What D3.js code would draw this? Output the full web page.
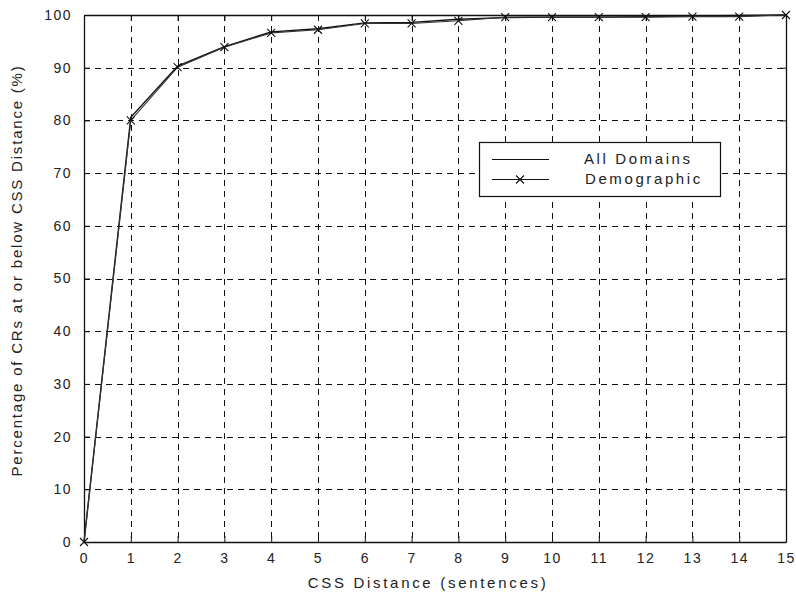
<!DOCTYPE html>
<html>
<head>
<meta charset="utf-8">
<script src="https://cdn.jsdelivr.net/npm/d3@7/dist/d3.min.js"></script>
<style>
  html, body { margin: 0; padding: 0; background: #fff; }
  svg text { font-family: "Liberation Sans", Arial, sans-serif; fill: #222; }
</style>
</head>
<body>
<svg id="chart" width="796" height="603"></svg>
<script>
// CSS distance (sentences) vs cumulative percentage of CRs
const distances = [0, 1, 2, 3, 4, 5, 6, 7, 8, 9, 10, 11, 12, 13, 14, 15];
const allDomains = [0, 80.6, 90.3, 94.0, 96.8, 97.4, 98.5, 98.6, 99.2, 99.5, 99.6, 99.6, 99.7, 99.8, 99.9, 100];
const demographic = [0, 80.0, 90.1, 93.9, 96.6, 97.2, 98.4, 98.4, 98.9, 99.6, 99.6, 99.6, 99.6, 99.7, 99.7, 100];
const xTicks = d3.range(0, 16);
const yTicks = d3.range(0, 101, 10);
const seriesNames = ["All Domains", "Demographic"];

const svg = d3.select("#chart");
const margin = { left: 84, right: 10, top: 15, bottom: 61 };
const W = 796, H = 603;
const x = d3.scaleLinear().domain([0, 15]).range([margin.left, W - margin.right]);
const y = d3.scaleLinear().domain([0, 100]).range([H - margin.bottom, margin.top]);

const x0 = x(0), x1 = x(15), y0 = y(0), y1 = y(100);

// dashed grid
const grid = svg.append("g").attr("stroke", "#111").attr("stroke-width", 1)
  .attr("stroke-dasharray", "6,5");
grid.selectAll("line.vx").data(xTicks.slice(1, -1)).join("line")
  .attr("x1", d => Math.round(x(d)) + 0.5).attr("x2", d => Math.round(x(d)) + 0.5)
  .attr("y1", y1).attr("y2", y0);
grid.selectAll("line.hy").data(yTicks.slice(1, -1)).join("line")
  .attr("y1", d => Math.round(y(d)) + 0.5).attr("y2", d => Math.round(y(d)) + 0.5)
  .attr("x1", x0).attr("x2", x1);

// axes with inward ticks
const fontSize = 14;
const bottomAxis = d3.axisBottom(x).tickValues(xTicks).tickSizeInner(-6).tickSizeOuter(0).tickPadding(11);
const topAxis = d3.axisTop(x).tickValues(xTicks).tickSizeInner(-6).tickSizeOuter(0).tickFormat("");
const leftAxis = d3.axisLeft(y).tickValues(yTicks).tickSizeInner(-6).tickSizeOuter(0).tickPadding(12);
const rightAxis = d3.axisRight(y).tickValues(yTicks).tickSizeInner(-6).tickSizeOuter(0).tickFormat("");

function styleAxis(g) {
  g.select(".domain").attr("stroke", "#111").attr("stroke-width", 1.3);
  g.selectAll(".tick line").attr("stroke", "#111");
  g.selectAll(".tick text").attr("font-size", fontSize).attr("fill", "#222")
    .attr("font-family", "'Liberation Sans', Arial, sans-serif").style("letter-spacing", "1.5px");
}
svg.append("g").attr("transform", `translate(0,${y0})`).call(bottomAxis).call(styleAxis);
svg.append("g").attr("transform", `translate(0,${y1})`).call(topAxis).call(styleAxis);
svg.append("g").attr("transform", `translate(${x0},0)`).call(leftAxis).call(styleAxis);
svg.append("g").attr("transform", `translate(${x1},0)`).call(rightAxis).call(styleAxis);

// series lines
const line = d3.line().x((d, i) => x(distances[i])).y(d => y(d));
svg.append("path").datum(allDomains).attr("d", line)
  .attr("fill", "none").attr("stroke", "#111").attr("stroke-width", 1.4);
svg.append("path").datum(demographic).attr("d", line)
  .attr("fill", "none").attr("stroke", "#333").attr("stroke-width", 1.1);

// x markers for Demographic
const m = 4;
const markers = svg.append("g").attr("stroke", "#111").attr("stroke-width", 1.1);
markers.selectAll("path").data(demographic).join("path")
  .attr("d", (d, i) => {
    const cx = x(distances[i]), cy = y(d);
    return `M${cx - m},${cy - m}L${cx + m},${cy + m}M${cx - m},${cy + m}L${cx + m},${cy - m}`;
  });

// axis titles
svg.append("text").attr("x", 428).attr("y", 588)
  .attr("text-anchor", "middle").attr("font-size", 15)
  .style("letter-spacing", "2.7px").text("CSS Distance (sentences)");
svg.append("text").attr("transform", `translate(22,${(y0 + y1) / 2 - 8}) rotate(-90)`)
  .attr("text-anchor", "middle").attr("font-size", 15)
  .style("letter-spacing", "1.8px").text("Percentage of CRs at or below CSS Distance (%)");

// legend
const lg = svg.append("g");
lg.append("rect").attr("x", 479.5).attr("y", 142.5).attr("width", 241).attr("height", 54)
  .attr("fill", "#fff").attr("stroke", "#111").attr("stroke-width", 1.2);
const rows = [159, 179];
lg.selectAll("line.s").data(seriesNames).join("line")
  .attr("x1", 492).attr("x2", 549)
  .attr("y1", (d, i) => rows[i] + 0.5).attr("y2", (d, i) => rows[i] + 0.5)
  .attr("stroke", "#111").attr("stroke-width", 1.2);
const lcx = 520, lcy = rows[1] + 0.5;
lg.append("path")
  .attr("d", `M${lcx - m},${lcy - m}L${lcx + m},${lcy + m}M${lcx - m},${lcy + m}L${lcx + m},${lcy - m}`)
  .attr("stroke", "#111").attr("stroke-width", 1.1);
lg.selectAll("text").data(seriesNames).join("text")
  .attr("x", (d, i) => i === 0 ? 584 : 585).attr("y", (d, i) => rows[i] + 5)
  .attr("font-size", 15).style("letter-spacing", "2.6px").text(d => d);
</script>
</body>
</html>
